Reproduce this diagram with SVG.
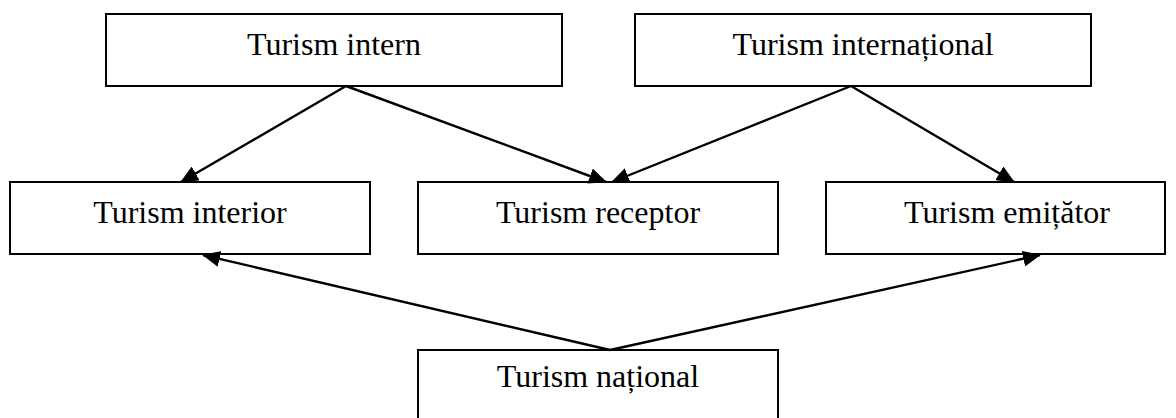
<svg xmlns="http://www.w3.org/2000/svg" width="1176" height="418" viewBox="0 0 1176 418">
<style>
.box{fill:#fff;stroke:#000;stroke-width:2}
.lbl{font-family:"Liberation Serif","Times New Roman",serif;font-size:32px;fill:#000;text-anchor:middle}
.edge{stroke:#000;stroke-width:2.4;fill:none;marker-end:url(#ah)}
</style>
<defs>
<marker id="ah" markerWidth="18" markerHeight="16" refX="17" refY="8" orient="auto" markerUnits="userSpaceOnUse">
<path d="M0,0 L18,8 L0,16 Z" fill="#000"/>
</marker>
</defs>
<rect width="1176" height="418" fill="#fff"/>
<g id="n-intern"><rect class="box" x="106" y="14" width="456" height="72"/><text class="lbl" x="334" y="55">Turism intern</text></g>
<g id="n-international"><rect class="box" x="635" y="14" width="456" height="72"/><text class="lbl" x="863" y="55">Turism internațional</text></g>
<g id="n-interior"><rect class="box" x="10" y="182" width="360" height="72"/><text class="lbl" x="190" y="223">Turism interior</text></g>
<g id="n-receptor"><rect class="box" x="418" y="182" width="360" height="72"/><text class="lbl" x="598" y="223">Turism receptor</text></g>
<g id="n-emitator"><rect class="box" x="826" y="182" width="339" height="72"/><text class="lbl" x="1007" y="223">Turism emițător</text></g>
<g id="n-national"><rect class="box" x="418" y="350" width="360" height="72"/><text class="lbl" x="598" y="387">Turism național</text></g>
<g id="connectors">
<line class="edge" x1="346" y1="86" x2="181" y2="182"/>
<line class="edge" x1="346" y1="86" x2="606" y2="182"/>
<line class="edge" x1="851" y1="86" x2="612" y2="182"/>
<line class="edge" x1="851" y1="86" x2="1014" y2="182"/>
<line class="edge" x1="610" y1="350" x2="203" y2="255"/>
<line class="edge" x1="610" y1="350" x2="1040" y2="255"/>
</g>
</svg>
